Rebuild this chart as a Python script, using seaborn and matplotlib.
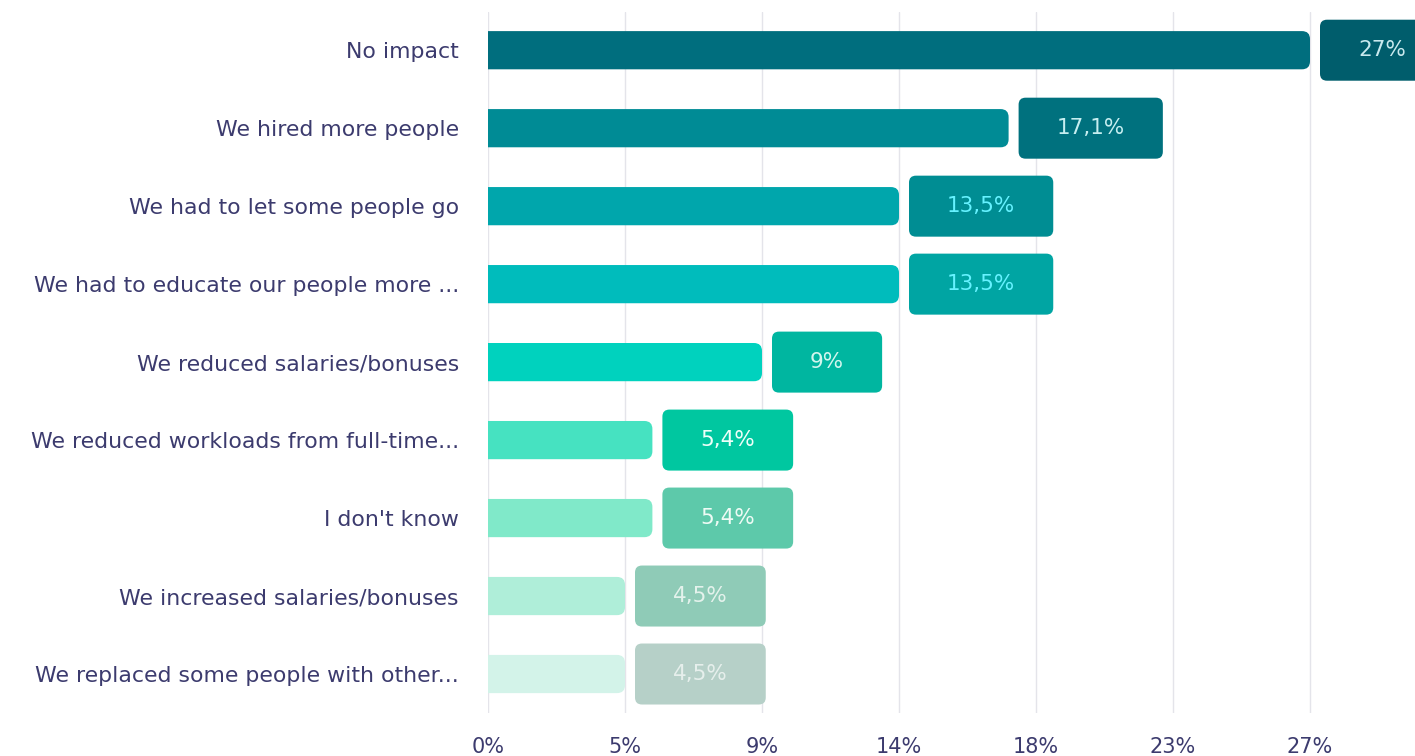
import matplotlib
matplotlib.use("Agg")
import matplotlib.pyplot as plt
import seaborn as sns
import pandas as pd
from matplotlib.patches import FancyBboxPatch

# Survey answers and their shares (%)
answers = [
    "No impact",
    "We hired more people",
    "We had to let some people go",
    "We had to educate our people more ...",
    "We reduced salaries/bonuses",
    "We reduced workloads from full-time...",
    "I don't know",
    "We increased salaries/bonuses",
    "We replaced some people with other...",
]
shares = [27, 17.1, 13.5, 13.5, 9, 5.4, 5.4, 4.5, 4.5]
value_labels = ["27%", "17,1%", "13,5%", "13,5%", "9%", "5,4%", "5,4%", "4,5%", "4,5%"]
tick_values = [0, 4.5, 9, 13.5, 18, 22.5, 27]
tick_labels = ["0%", "5%", "9%", "14%", "18%", "23%", "27%"]

bar_colors = ["#006e7e", "#008b95", "#00a6ac", "#00bcbc", "#00d2be",
              "#46e2c1", "#80e9c9", "#afeed9", "#d3f3e9"]
box_colors = ["#005d6c", "#00717e", "#008d93", "#00a5a3", "#00b6a0",
              "#00c7a0", "#5dc9aa", "#8fcbb7", "#b6d0c8"]
value_colors = ["#c9e9ee", "#c6eef0", "#66f2ff", "#66f2ff", "#d2f6ee",
                "#eefff9", "#eefbf5", "#e4f2ec", "#e6efec"]

text_color = "#3c3b6e"

sns.set_style("white")
plt.rcParams['font.family'] = ['DejaVu Sans']

W, H = 1415, 756
fig = plt.figure(figsize=(W / 100, H / 100), dpi=100)
ax_left, ax_top, ax_bottom = 488, 12, 713
ax = fig.add_axes([ax_left / W, 1 - ax_bottom / H, 1 - ax_left / W, (ax_bottom - ax_top) / H])

df = pd.DataFrame({"answer": answers, "share": shares})
sns.barplot(data=df, x="share", y="answer", hue="answer", palette=bar_colors,
            saturation=1, legend=False, width=0.49, ax=ax)

ax.set_xlim(0, (W - ax_left) / (1310 - ax_left) * 27)
ax.set_ylim(len(answers) - 0.5, -0.49)

# pixel scale of the data units
px_x = (W - ax_left) / (ax.get_xlim()[1] - ax.get_xlim()[0])
px_y = (ax_bottom - ax_top) / (ax.get_ylim()[0] - ax.get_ylim()[1])
aspect = px_x / px_y

# replace the plain bars with rounded ones
for p in list(ax.patches):
    x0, y0, w, h = p.get_x(), p.get_y(), p.get_width(), p.get_height()
    p.set_visible(False)
    ax.add_patch(FancyBboxPatch((x0 - 0.5, y0), w + 0.5, h,
                                boxstyle="round,pad=0,rounding_size=%f" % (8 / px_x),
                                mutation_aspect=aspect, facecolor=p.get_facecolor(),
                                edgecolor="none", zorder=2))

ax.set_xticks(tick_values)
ax.set_xticklabels(tick_labels)
ax.grid(axis="x", color="#e4e4ea", linewidth=1)
ax.grid(axis="y", visible=False)
ax.set_axisbelow(True)
sns.despine(ax=ax, left=True, bottom=True)
ax.tick_params(axis="x", length=0, pad=17, labelsize=15, labelcolor=text_color)
ax.tick_params(axis="y", length=0, pad=21, labelsize=15.8, labelcolor=text_color)
ax.set_xlabel("")
ax.set_ylabel("")

# value labels inside rounded boxes
texts = []
for i, (v, lab) in enumerate(zip(shares, value_labels)):
    t = ax.text(0, i, lab, ha="center", va="center", fontsize=15.5,
                color=value_colors[i], zorder=4)
    texts.append(t)

fig.canvas.draw()
renderer = fig.canvas.get_renderer()
for i, (v, t) in enumerate(zip(shares, texts)):
    tw = t.get_window_extent(renderer).width
    box_w = (tw + 76) / px_x
    x_left = v + 10 / px_x
    box_h = 61 / px_y
    ax.add_patch(FancyBboxPatch((x_left, i - box_h / 2), box_w, box_h,
                                boxstyle="round,pad=0,rounding_size=%f" % (7 / px_x),
                                mutation_aspect=aspect, facecolor=box_colors[i],
                                edgecolor="none", zorder=3, clip_on=False))
    t.set_x(x_left + box_w / 2)

fig.savefig("out.png", dpi=100)
